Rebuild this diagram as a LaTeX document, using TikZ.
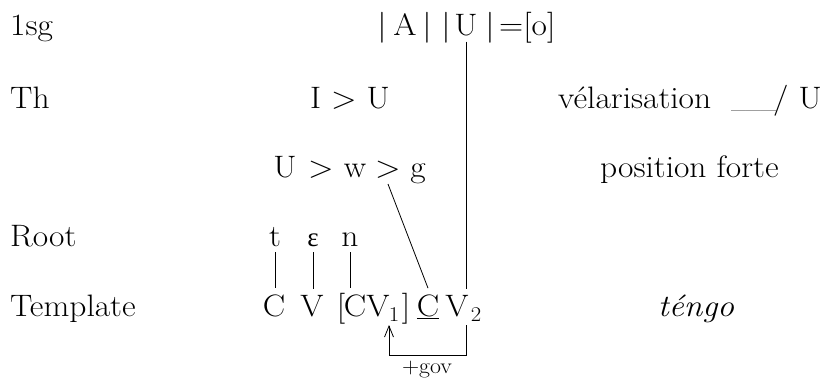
\documentclass[tikz,border=0pt]{standalone}
\usepackage{fontspec}
\setmainfont{Latin Modern Roman}[FakeStretch=1.08]
\newfontfamily\ipafont{Liberation Serif}
\usetikzlibrary{arrows.meta}
\begin{document}
\begin{tikzpicture}[x=1pt,y=-1pt,
  every node/.style={font=\fontsize{31}{37}\selectfont},
  lab/.style={anchor=base west, inner sep=0pt},
  labe/.style={anchor=base east, inner sep=0pt},
  sym/.style={anchor=base, inner xsep=0pt, inner ysep=6pt},
  barsym/.style={anchor=base, inner sep=0pt},
  subsym/.style={anchor=base, inner sep=0pt, font=\fontsize{21}{25}\selectfont},
  link/.style={line width=0.8pt},
  govarrow/.style={line width=0.8pt, -{Straight Barb[length=11pt,width=9pt]}}
]
\useasboundingbox (0,0) rectangle (832,378);

% row labels
\node[lab] (l1) at (10,35) {1sg};
\node[lab] (l2) at (10,108) {Th};
\node[lab] (l4) at (10,246) {Root};
\node[lab] (l5) at (10,316) {Template};

% row 1
\node[barsym] (b1) at (382,35) {|};
\node[sym] (A1) at (405,35) {A};
\node[barsym] (b2) at (427,35) {|};
\node[barsym] (b3) at (446,35) {|};
\node[sym] (U1) at (466,35) {U};
\node[barsym] (b4) at (490,35) {|};
\node[lab] (eqo) at (499,35) {=[o]};

% row 2
\node[sym] (IU) at (350,108) {I > U};
\node[lab] (vel) at (558,108) {vélarisation};
\node[lab, font=\fontsize{20}{24}\selectfont] (velblank) at (731,108.5) {\_\_\_};
\node[labe] (velctx) at (822,108) {/ U};

% row 3
\node[sym] (U3) at (285,177) {U};
\node[sym] (gt1) at (321,177) {>};
\node[sym] (w3) at (355,177) {w};
\node[sym] (gt2) at (388,177) {>};
\node[sym] (g3) at (418,177) {g};
\node[lab] (pf) at (600,177) {position forte};

% root
\node[sym] (rt) at (275,246) {t};
\node[sym] (re) at (313,246) {\ipafont\fontsize{27}{31}\selectfont ε};
\node[sym] (rn) at (350,246) {n};

% template
\node[sym] (tC) at (274,316) {C};
\node[sym] (tV) at (312,316) {V};
\node[sym] (lb) at (341,316) {[};
\node[sym] (tC1) at (355,316) {C};
\node[sym] (tV1) at (378,316) {V};
\node[subsym] (s1) at (394,321) {1};
\node[sym] (rb) at (406,316) {]};
\node[sym] (tC2) at (428,316) {\underline{C}};
\node[sym] (tV2) at (457,316) {V};
\node[subsym] (s2) at (476,321) {2};
\node[sym] (teng) at (696,316) {\textit{téngo}};

% association lines
\draw[link] (rt.south) -- (rt.south |- tC.north);
\draw[link] (re.south) -- (re.south |- tV.north);
\draw[link] (rn.south) -- (rn.south |- tC1.north);
\draw[link] (gt2.south) -- (tC2.north);
\draw[link] (U1.south) -- (U1.south |- tV2.north);

% government
\coordinate (gL) at (389,325);
\coordinate (gR) at (466,325);
\draw[govarrow] (gR) -- ++(0,30) -| (gL);
\node[anchor=base, inner sep=0pt, font=\fontsize{22}{26}\selectfont] (gov) at (427,373) {+gov};
\end{tikzpicture}
\end{document}
